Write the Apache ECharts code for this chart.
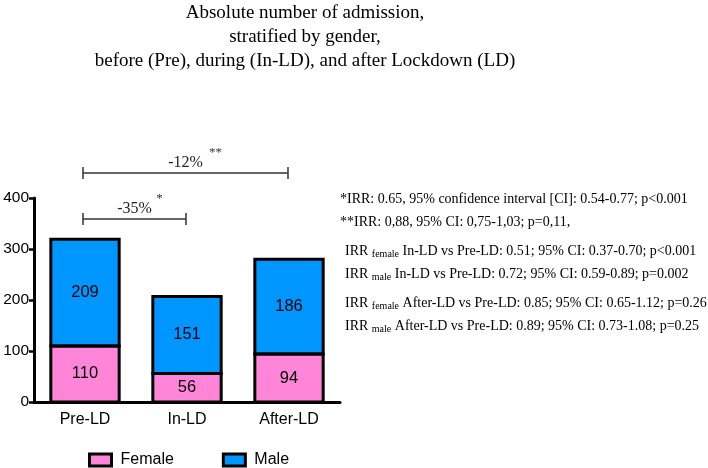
<!DOCTYPE html>
<html><head><meta charset="utf-8">
<script src="https://cdn.jsdelivr.net/npm/echarts@6/dist/echarts.min.js"></script>
<style>html,body{margin:0;padding:0;background:#fff}#c{width:708px;height:468px}</style>
</head><body><div id="c"></div>
<script>
const categories = ['Pre-LD', 'In-LD', 'After-LD'];
const female = [110, 56, 94];
const male = [209, 151, 186];
const yTicks = [0, 100, 200, 300, 400];
const titleLines = ['Absolute number of admission,', 'stratified by gender,', 'before (Pre), during (In-LD), and after Lockdown (LD)'];
// brackets: [fromCategoryIndex, toCategoryIndex, level, label, stars]
const brackets = [[0, 2, 449, '-12%', '**'], [0, 1, 359, '-35%', '*']];
const notes = [
  {pre: '*IRR: 0.65, 95% confidence interval [CI]: 0.54-0.77; p<0.001'},
  {pre: '**IRR: 0,88, 95% CI: 0,75-1,03; p=0,11,'},
  {pre: 'IRR ', sub: 'female', post: ' In-LD vs Pre-LD: 0.51; 95% CI: 0.37-0.70; p<0.001'},
  {pre: 'IRR ', sub: 'male', post: ' In-LD vs Pre-LD: 0.72; 95% CI: 0.59-0.89; p=0.002'},
  {pre: 'IRR ', sub: 'female', post: ' After-LD vs Pre-LD: 0.85; 95% CI: 0.65-1.12; p=0.26'},
  {pre: 'IRR ', sub: 'male', post: ' After-LD vs Pre-LD: 0.89; 95% CI: 0.73-1.08; p=0.25'}
];
const noteY = [199, 222, 251, 274, 303, 326];
const noteX = [340, 340, 345, 345, 345, 345];

const PINK = '#FF85D8', BLUE = '#0096FF';
const SANS = 'Liberation Sans, Arial, sans-serif';
const SERIF = 'Liberation Serif, Times New Roman, serif';

const chart = echarts.init(document.getElementById('c'));

const graphics = [];
titleLines.forEach((t, i) => graphics.push({
  type: 'text', x: 305, y: 13 + i * 24,
  style: {text: t, font: '19px ' + SERIF, fill: '#000', textAlign: 'center', textVerticalAlign: 'middle'}
}));
notes.forEach((n, i) => {
  let txt = n.sub ? '{a|' + n.pre + '}{s|' + n.sub + '}{a|' + n.post + '}' : '{a|' + n.pre + '}';
  graphics.push({
    type: 'text', x: noteX[i], y: noteY[i],
    style: {
      text: txt, textVerticalAlign: 'middle', fill: '#000',
      rich: {
        a: {fontFamily: SERIF, fontSize: 14, lineHeight: 16, fill: '#000', verticalAlign: 'middle'},
        s: {fontFamily: SERIF, fontSize: 10, lineHeight: 16, fill: '#000', verticalAlign: 'bottom', padding: [6, 0, 0, 0]}
      }
    }
  });
});

const stackTotals = female.map((f, i) => [i, f, f + male[i]]);

chart.setOption({
  animation: false,
  backgroundColor: '#fff',
  grid: {left: 34, right: 368, top: 198, bottom: 66},
  legend: {
    left: 83, top: 447, itemWidth: 22, itemHeight: 12, itemGap: 48, icon: 'rect',
    data: ['Female', 'Male'],
    itemStyle: {borderColor: '#000', borderWidth: 3},
    textStyle: {fontFamily: SANS, fontSize: 16, color: '#000', padding: [0, 0, 0, 4]}
  },
  xAxis: {
    type: 'category', data: categories,
    axisLine: {lineStyle: {color: '#000', width: 3}},
    axisTick: {alignWithLabel: true, length: 6, lineStyle: {color: '#000', width: 2.5}},
    axisLabel: {fontFamily: SANS, fontSize: 16, color: '#000', margin: 10}
  },
  yAxis: {
    type: 'value', min: yTicks[0], max: yTicks[yTicks.length - 1], interval: 100,
    splitLine: {show: false},
    axisLine: {show: true, lineStyle: {color: '#000', width: 3}},
    axisTick: {show: true, length: 5, lineStyle: {color: '#000', width: 2.5}},
    axisLabel: {fontFamily: SANS, fontSize: 15.5, color: '#000', margin: 5}
  },
  series: [
    {
      name: 'Female', type: 'bar', stack: 'g', data: female, barCategoryGap: '33%',
      itemStyle: {color: PINK, borderWidth: 0},
      label: {show: true, position: 'inside', fontFamily: SANS, fontSize: 16.5, color: '#000'}
    },
    {
      name: 'Male', type: 'bar', stack: 'g', data: male,
      itemStyle: {color: BLUE, borderWidth: 0},
      label: {show: true, position: 'inside', fontFamily: SANS, fontSize: 16.5, color: '#000'}
    },
    {
      // black outlines of the stacked segments
      type: 'custom', data: stackTotals, clip: false, silent: true, z: 3,
      encode: {x: 0, y: 2},
      renderItem: function (params, api) {
        const w = api.size([1, 0])[0] * 0.67;
        const p0 = api.coord([api.value(0), 0]);
        const p1 = api.coord([api.value(0), api.value(1)]);
        const p2 = api.coord([api.value(0), api.value(2)]);
        const x = p0[0] - w / 2;
        const st = {stroke: '#000', lineWidth: 3, fill: null};
        return {type: 'group', children: [
          {type: 'rect', shape: {x: x, y: p1[1], width: w, height: p0[1] - p1[1]}, style: st},
          {type: 'rect', shape: {x: x, y: p2[1], width: w, height: p1[1] - p2[1]}, style: st}
        ]};
      }
    },
    {
      type: 'custom', data: brackets, clip: false, silent: true,
      encode: {x: 0, y: 2},
      renderItem: function (params, api) {
        const p1 = api.coord([api.value(0), api.value(2)]);
        const p2 = api.coord([api.value(1), api.value(2)]);
        const d = brackets[params.dataIndex];
        const x1 = p1[0] - 2, x2 = p2[0] - 1, y = p1[1];
        const mid = (x1 + x2) / 2;
        const st = {stroke: '#333', lineWidth: 1.5};
        return {type: 'group', children: [
          {type: 'line', shape: {x1: x1, y1: y, x2: x2, y2: y}, style: st},
          {type: 'line', shape: {x1: x1, y1: y - 6, x2: x1, y2: y + 6}, style: st},
          {type: 'line', shape: {x1: x2, y1: y - 6, x2: x2, y2: y + 6}, style: st},
          {type: 'text', x: mid, y: y - 10, style: {text: d[3], font: '16px ' + SERIF, fill: '#222', textAlign: 'center', textVerticalAlign: 'middle'}},
          {type: 'text', x: mid + 25 + (d[4].length - 1) * 5, y: y - 20, style: {text: d[4], font: '13px ' + SERIF, fill: '#333', textAlign: 'center', textVerticalAlign: 'middle'}}
        ]};
      }
    }
  ],
  graphic: graphics
});
</script></body></html>
